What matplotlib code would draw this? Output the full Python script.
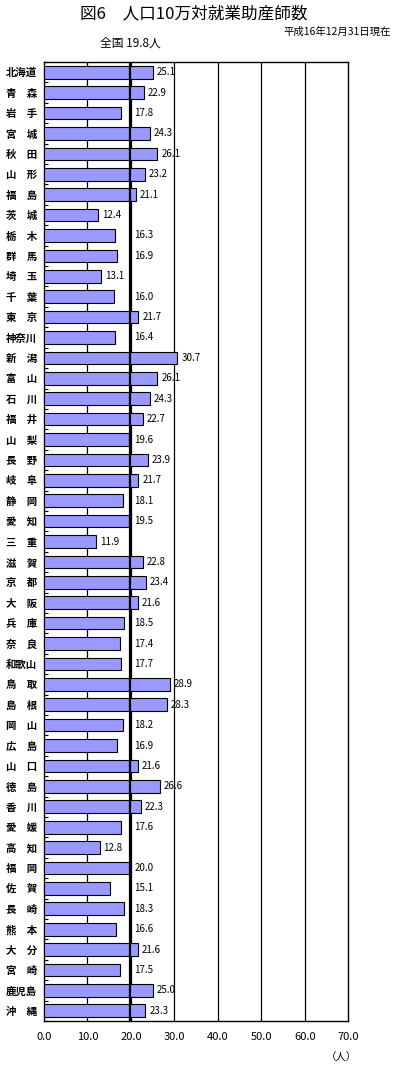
import numpy as np
import matplotlib.pyplot as plt

plt.rcParams['font.family'] = ['Noto Sans CJK JP', 'DejaVu Sans']

prefs = ['北海道', '青　森', '岩　手', '宮　城', '秋　田', '山　形', '福　島', '茨　城',
         '栃　木', '群　馬', '埼　玉', '千　葉', '東　京', '神奈川', '新　潟', '富　山',
         '石　川', '福　井', '山　梨', '長　野', '岐　阜', '静　岡', '愛　知', '三　重',
         '滋　賀', '京　都', '大　阪', '兵　庫', '奈　良', '和歌山', '鳥　取', '島　根',
         '岡　山', '広　島', '山　口', '徳　島', '香　川', '愛　媛', '高　知', '福　岡',
         '佐　賀', '長　崎', '熊　本', '大　分', '宮　崎', '鹿児島', '沖　縄']
values = [25.1, 22.9, 17.8, 24.3, 26.1, 23.2, 21.1, 12.4,
          16.3, 16.9, 13.1, 16.0, 21.7, 16.4, 30.7, 26.1,
          24.3, 22.7, 19.6, 23.9, 21.7, 18.1, 19.5, 11.9,
          22.8, 23.4, 21.6, 18.5, 17.4, 17.7, 28.9, 28.3,
          18.2, 16.9, 21.6, 26.6, 22.3, 17.6, 12.8, 20.0,
          15.1, 18.3, 16.6, 21.6, 17.5, 25.0, 23.3]
national = 19.8
xticks = [0, 10, 20, 30, 40, 50, 60, 70]

fig = plt.figure(figsize=(3.95, 10.66), dpi=100)
ax = fig.add_axes([0.1114, 0.0422, 0.7704, 0.8996])

n = len(values)
y = np.arange(n)
ax.barh(y, values, height=0.62, color='#9999ff', edgecolor='black', linewidth=0.8, zorder=3)

for xt in xticks[1:-1]:
    ax.axvline(xt, color='black', linewidth=0.9, zorder=1)
ax.axvline(national, color='black', linewidth=1.6, zorder=4)

# value labels, pushed past the national line when they would overlap it
for i, v in enumerate(values):
    if v < national and v + 5.0 > national:
        lx = national + 1.0
    else:
        lx = v + 0.9
    ax.text(lx, i, '%.1f' % v, va='center', ha='left', fontsize=7, zorder=5)

ax.set_xlim(0, 70)
ax.set_ylim(n - 0.5, -0.5)
ax.set_xticks(xticks)
ax.set_xticklabels(['%.1f' % t for t in xticks], fontsize=8)
ax.tick_params(axis='x', length=0, pad=8)
ax.set_yticks(y)
ax.set_yticklabels(prefs, fontsize=7.5, fontweight='bold')
ax.tick_params(axis='y', which='major', length=0, pad=5)
ax.set_yticks(np.arange(n + 1) - 0.5, minor=True)
ax.tick_params(axis='y', which='minor', direction='in', length=3, width=0.8)
for s in ax.spines.values():
    s.set_linewidth(1.0)

fig.text(0.49, 0.995, '図6　人口10万対就業助産師数', ha='center', va='top', fontsize=12)
fig.text(0.99, 0.975, '平成16年12月31日現在', ha='right', va='top', fontsize=7.5)
fig.text(0.33, 0.966, '全国 19.8人', ha='center', va='top', fontsize=8.5)
fig.text(0.865, 0.0125, '（人）', ha='center', va='top', fontsize=7.5)

plt.savefig('out.png', dpi=100)
